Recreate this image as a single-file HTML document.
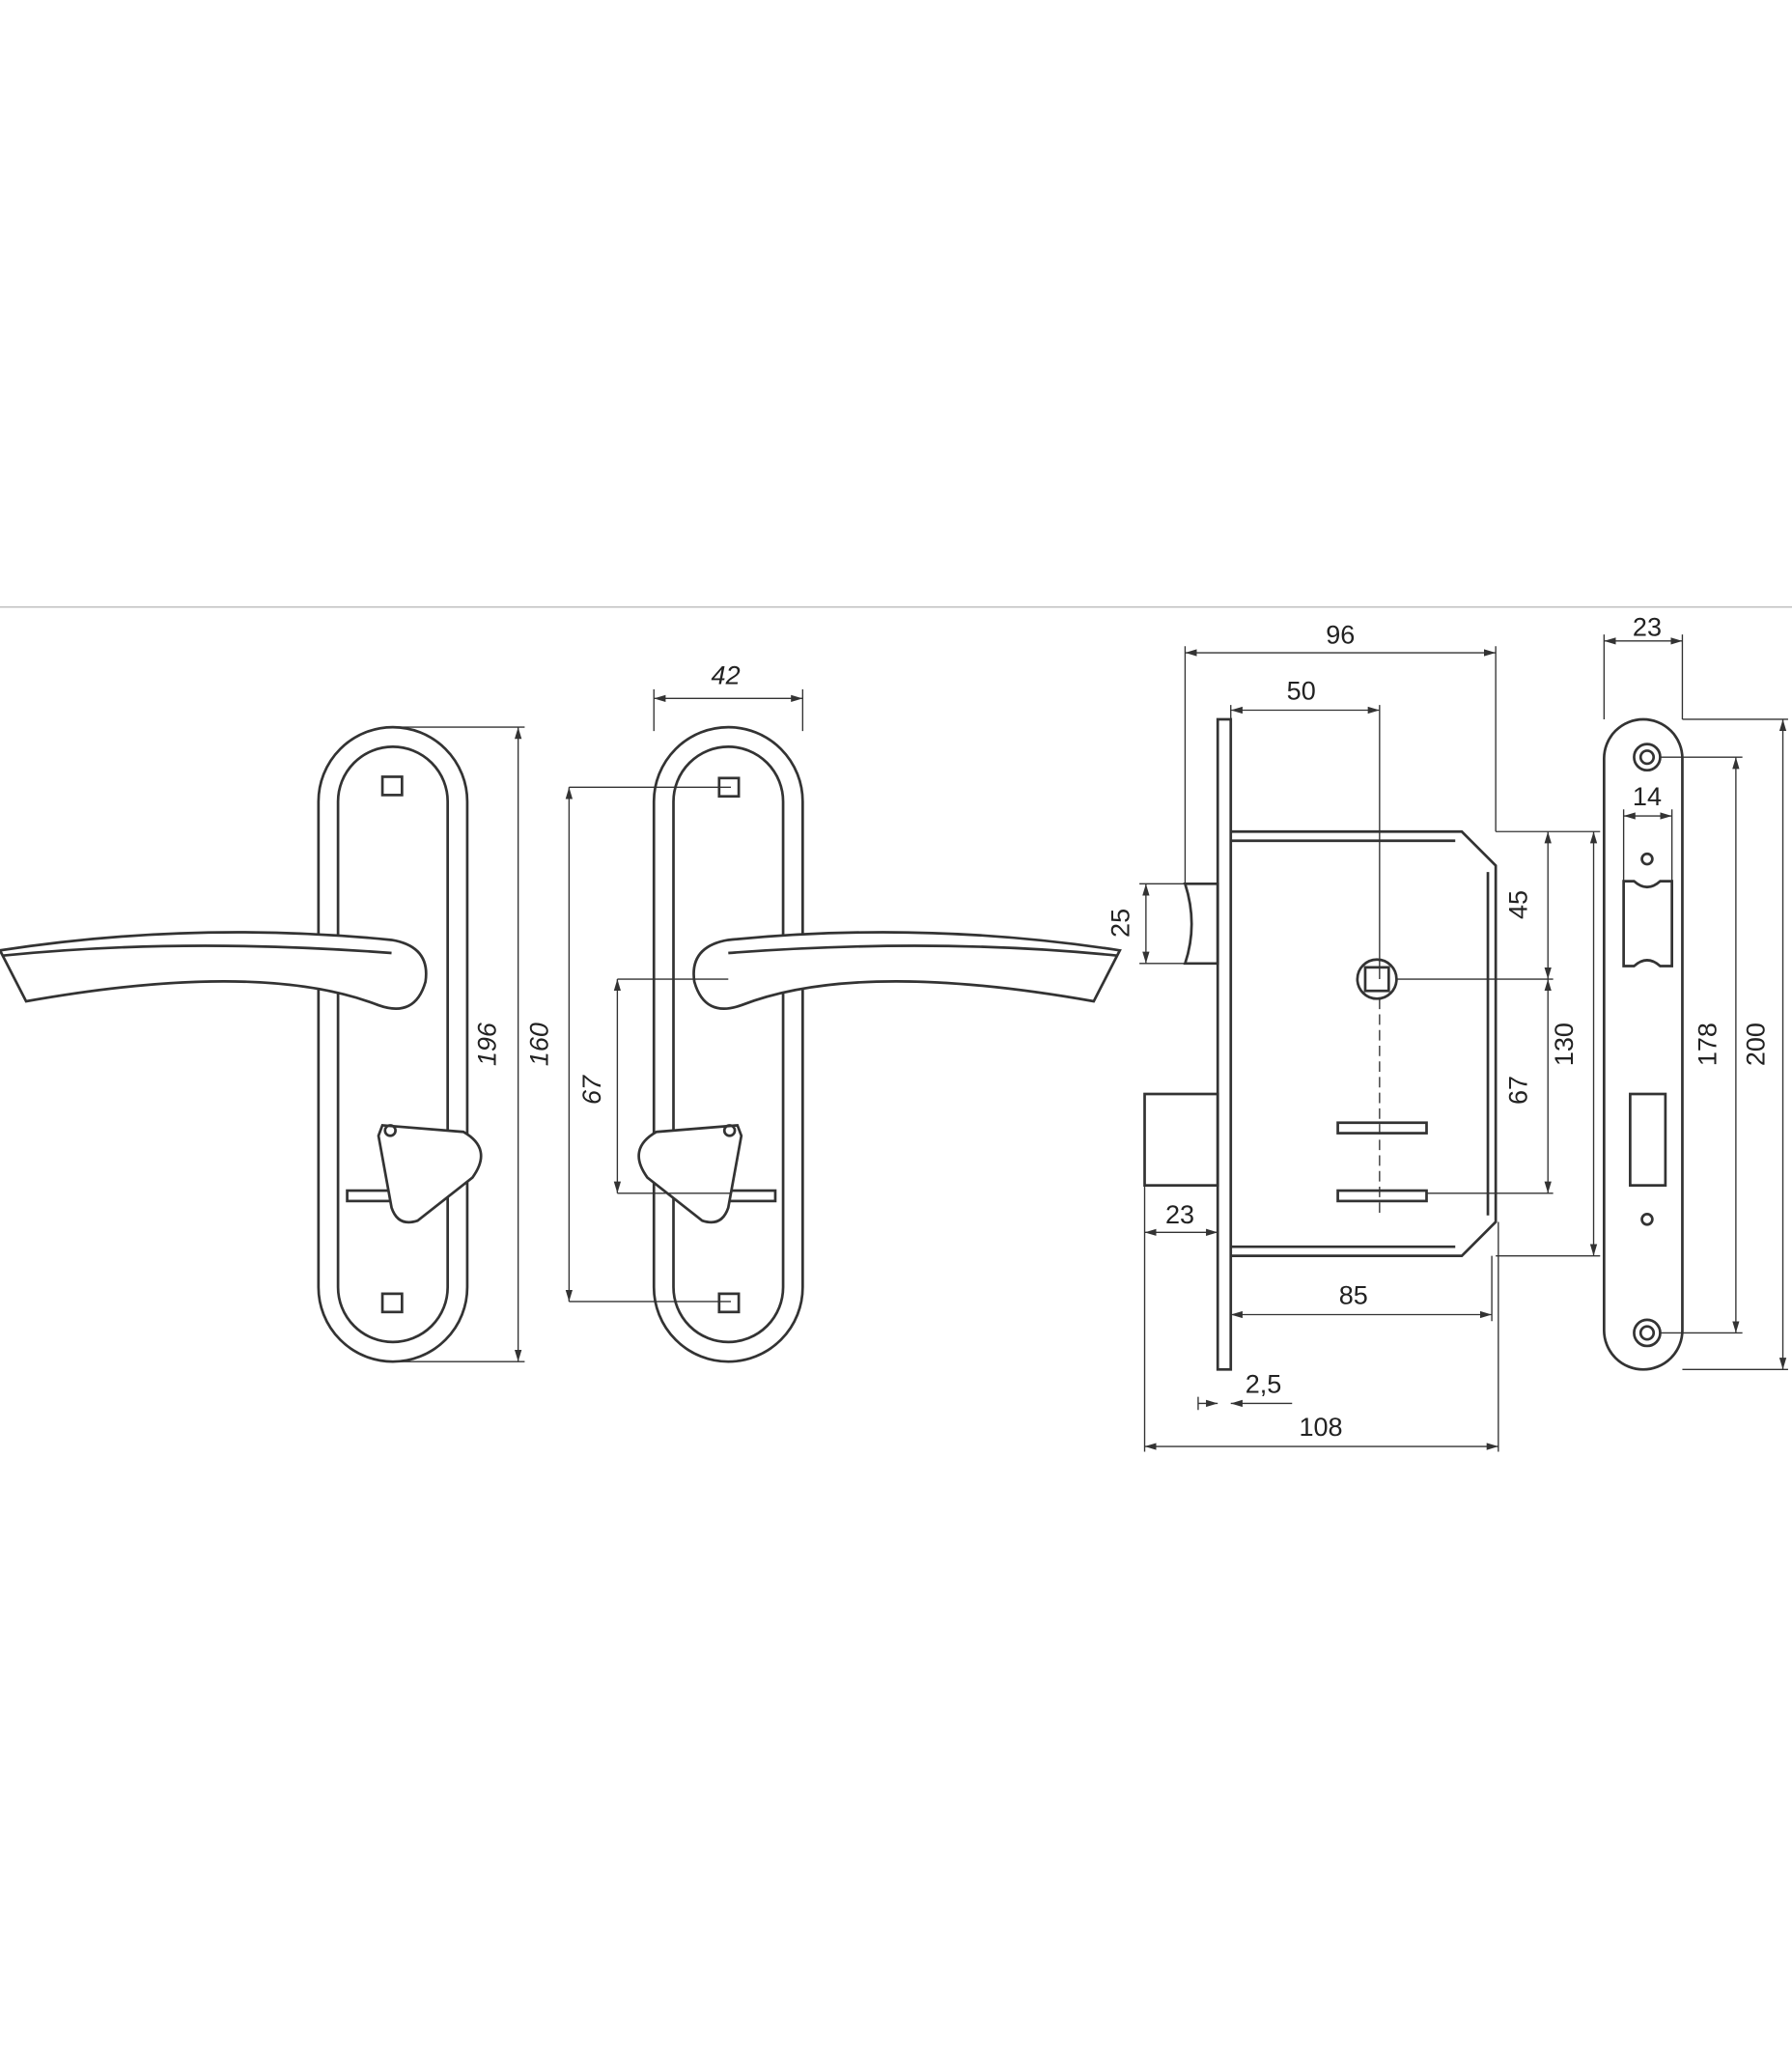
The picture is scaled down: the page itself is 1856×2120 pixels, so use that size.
<!DOCTYPE html>
<html><head><meta charset="utf-8"><style>html,body{margin:0;padding:0;background:#fff}svg{display:block}text{font-family:"Liberation Sans",sans-serif;font-size:20px;fill:#222}</style></head>
<body>
<svg width="1856" height="2120" viewBox="0 0 1373 1568" preserveAspectRatio="none" xmlns="http://www.w3.org/2000/svg">
<defs>
<marker id="a" viewBox="0 0 10 10" refX="10" refY="5" markerWidth="9" markerHeight="9" orient="auto-start-reverse" markerUnits="userSpaceOnUse"><path d="M0,2 L10,5 L0,8z" fill="#333"/></marker>
</defs>
<line x1="0" y1="465" x2="1373" y2="465" stroke="#bbb" stroke-width="1"/>
<g fill="none" stroke="#333" stroke-width="2">
<!-- left plate -->
<rect x="244" y="557" width="114" height="486" rx="57"/>
<rect x="259" y="572" width="84" height="456" rx="42"/>
<rect x="293" y="595" width="15" height="14"/>
<rect x="293" y="991" width="15" height="14"/>
<path d="M0,728 Q150,705 300,720 Q330,725 326,752 Q318,780 290,770 Q200,735 20,767 Z" fill="#fff"/>
<path d="M2,732 Q140,718 300,730"/>
<rect x="266" y="912" width="64" height="8"/>
<path d="M293,862 L355,867 Q378,880 362,902 L320,935 Q305,940 300,925 L290,870 Z" fill="#fff"/>
<circle cx="299" cy="866" r="4"/>
<!-- right plate -->
<rect x="501" y="557" width="114" height="486" rx="57"/>
<rect x="516" y="572" width="84" height="456" rx="42"/>
<rect x="551" y="596" width="15" height="14"/>
<rect x="551" y="991" width="15" height="14"/>
<rect x="530" y="912" width="64" height="8"/>
<path d="M858,728 Q708,705 558,720 Q528,725 532,752 Q540,780 568,770 Q658,735 838,767 Z" fill="#fff"/>
<path d="M856,732 Q718,718 558,730"/>
<path d="M565,862 L503,867 Q480,880 496,902 L538,935 Q553,940 558,925 L568,870 Z" fill="#fff"/>
<circle cx="559" cy="866" r="4"/>
<!-- lock -->
<rect x="933" y="551" width="10" height="498"/>
<path d="M943,637 L1120,637 L1146,663 L1146,936 L1120,962 L943,962"/>
<path d="M1140,668 L1140,931"/>
<path d="M943,644 L1115,644 M943,955 L1115,955"/>
<path d="M908,677 L933,677 L933,738 L908,738 Q918,708 908,677Z"/>
<rect x="877" y="838" width="56" height="70"/>
<circle cx="1055" cy="750" r="15"/>
<rect x="1046" y="741" width="18" height="18"/>
<rect x="1025" y="860" width="68" height="8"/>
<rect x="1025" y="912" width="68" height="8"/>
<line x1="1057" y1="765" x2="1057" y2="930" stroke-dasharray="8 4" stroke-width="1"/>
<!-- faceplate -->
<rect x="1229" y="551" width="60" height="498" rx="30"/>
<circle cx="1262" cy="580" r="10"/><circle cx="1262" cy="580" r="5"/>
<circle cx="1262" cy="1021" r="10"/><circle cx="1262" cy="1021" r="5"/>
<circle cx="1262" cy="658" r="4"/><circle cx="1262" cy="934" r="4"/>
<path d="M1244,675 L1252,675 Q1262,684 1272,675 L1281,675 L1281,740 L1272,740 Q1262,731 1252,740 L1244,740Z"/>
<rect x="1249" y="838" width="27" height="70"/>
</g>
<g stroke="#333" stroke-width="1" fill="none">
<!-- ext lines -->
<path d="M300,557 L402,557 M300,1043 L402,1043 M436,603 L560,603 M436,997 L560,997 M501,528 L501,560 M615,528 L615,560 M473,750 L558,750 M473,914 L560,914"/>
<path d="M908,495 L908,677 M1146,495 L1146,637 M943,540 L943,551 M1057,540 L1057,750 M873,677 L933,677 M873,738 L908,738 M1146,637 L1226,637 M1070,750 L1190,750 M1093,914 L1190,914 M1146,962 L1226,962 M877,908 L877,1112 M1148,936 L1148,1112 M1143,962 L1143,1012 M918,1070 L918,1080"/>
<path d="M1229,486 L1229,551 M1289,486 L1289,551 M1244,620 L1244,675 M1281,620 L1281,675 M1272,580 L1335,580 M1272,1021 L1335,1021 M1289,551 L1370,551 M1289,1049 L1370,1049"/>
<g marker-start="url(#a)" marker-end="url(#a)">
<line x1="397" y1="557" x2="397" y2="1043"/>
<line x1="436" y1="603" x2="436" y2="997"/>
<line x1="501" y1="535" x2="615" y2="535"/>
<line x1="473" y1="750" x2="473" y2="914"/>
<line x1="908" y1="500" x2="1146" y2="500"/>
<line x1="943" y1="544" x2="1057" y2="544"/>
<line x1="878" y1="677" x2="878" y2="738"/>
<line x1="1186" y1="637" x2="1186" y2="750"/>
<line x1="1186" y1="750" x2="1186" y2="914"/>
<line x1="1221" y1="637" x2="1221" y2="962"/>
<line x1="877" y1="944" x2="933" y2="944"/>
<line x1="943" y1="1007" x2="1143" y2="1007"/>
<line x1="877" y1="1108" x2="1148" y2="1108"/>
<line x1="1229" y1="491" x2="1289" y2="491"/>
<line x1="1244" y1="625" x2="1281" y2="625"/>
<line x1="1330" y1="580" x2="1330" y2="1021"/>
<line x1="1366" y1="551" x2="1366" y2="1049"/>
</g>
<line x1="918" y1="1075" x2="933" y2="1075" marker-end="url(#a)"/>
<line x1="990" y1="1075" x2="943" y2="1075" marker-end="url(#a)"/>
</g>
<g text-anchor="middle">
<text x="380" y="800" font-style="italic" transform="rotate(-90 380 800)">196</text>
<text x="420" y="800" font-style="italic" transform="rotate(-90 420 800)">160</text>
<text x="556" y="524" font-style="italic">42</text>
<text x="460" y="835" font-style="italic" transform="rotate(-90 460 835)">67</text>
<text x="1027" y="493">96</text>
<text x="997" y="536">50</text>
<text x="865" y="707" transform="rotate(-90 865 707)">25</text>
<text x="1170" y="693" transform="rotate(-90 1170 693)">45</text>
<text x="1170" y="835" transform="rotate(-90 1170 835)">67</text>
<text x="1205" y="800" transform="rotate(-90 1205 800)">130</text>
<text x="904" y="937">23</text>
<text x="1037" y="999">85</text>
<text x="968" y="1067">2,5</text>
<text x="1012" y="1100">108</text>
<text x="1262" y="487">23</text>
<text x="1262" y="617">14</text>
<text x="1315" y="800" transform="rotate(-90 1315 800)">178</text>
<text x="1352" y="800" transform="rotate(-90 1352 800)">200</text>
</g>
</svg>
</body></html>
